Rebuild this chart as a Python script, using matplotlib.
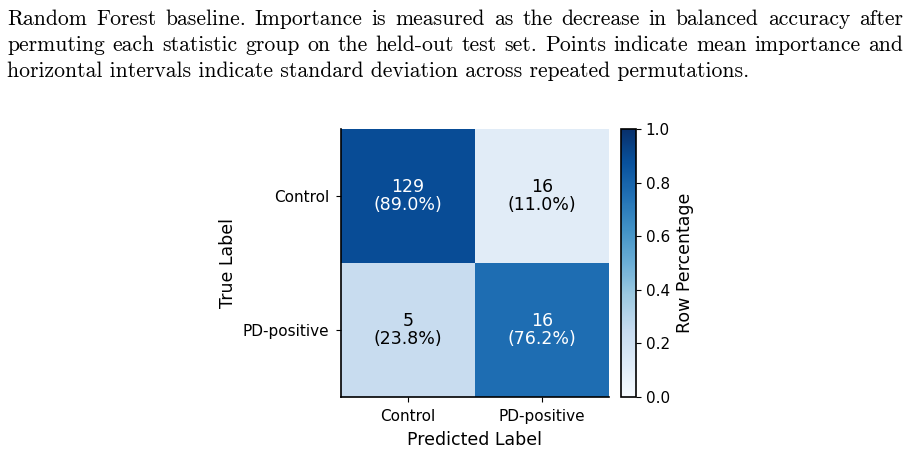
import numpy as np
import matplotlib
matplotlib.use("Agg")
import matplotlib.pyplot as plt

classes = ["Control", "PD-positive"]
counts = np.array([[129, 16], [5, 16]])
caption_lines = [
    "Random Forest baseline. Importance is measured as the decrease in balanced accuracy after",
    "permuting each statistic group on the held-out test set. Points indicate mean importance and",
    "horizontal intervals indicate standard deviation across repeated permutations.",
]

row_pct = counts / counts.sum(axis=1, keepdims=True)

W, H = 914, 451
fig = plt.figure(figsize=(W / 100, H / 100), dpi=100)
renderer = fig.canvas.get_renderer()

# caption (justified like the source paragraph)
cap_kw = dict(family="cmr10", fontsize=15.6, ha="left", va="baseline")
left_px, right_px = 7, 903
for i, line in enumerate(caption_lines):
    y = 1 - (25 + 26 * i) / H
    words = line.split(" ")
    justify = i < len(caption_lines) - 1
    if justify:
        tmp = [fig.text(0, 0, w, **cap_kw) for w in words]
        widths = [t.get_window_extent(renderer).width for t in tmp]
        for t in tmp:
            t.remove()
        gap = (right_px - left_px - sum(widths)) / (len(words) - 1)
        x = left_px
        for w, wd in zip(words, widths):
            fig.text(x / W, y, w, **cap_kw)
            x += wd + gap
    else:
        fig.text(left_px / W, y, line, **cap_kw)

ax = fig.add_axes([341 / W, 54 / H, 268 / W, 268 / H])
cax = fig.add_axes([621 / W, 54 / H, 15 / W, 268 / H])

im = ax.imshow(row_pct, cmap="Blues", vmin=0, vmax=1, aspect="auto")
for i in range(2):
    for j in range(2):
        color = "white" if row_pct[i, j] > 0.5 else "black"
        ax.text(j, i, f"{counts[i, j]}\n({row_pct[i, j] * 100:.1f}%)",
                ha="center", va="center", fontsize=12.5, color=color, linespacing=1.05)

ax.set_xticks(range(2))
ax.set_yticks(range(2))
ax.set_xticklabels(classes, fontsize=11)
ax.set_yticklabels(classes, fontsize=11)
ax.tick_params(pad=5)
ax.set_xlabel("Predicted Label", fontsize=12.5, labelpad=5)
ax.set_ylabel("True Label", fontsize=12.5)
ax.spines["top"].set_visible(False)
ax.spines["right"].set_visible(False)
for s in ["left", "bottom"]:
    ax.spines[s].set_linewidth(1.2)

cb = fig.colorbar(im, cax=cax)
cb.set_ticks([0, 0.2, 0.4, 0.6, 0.8, 1.0])
cb.ax.tick_params(labelsize=11)
cb.set_label("Row Percentage", fontsize=12.5)
cb.outline.set_linewidth(1.2)

fig.savefig("out.png", dpi=100)
